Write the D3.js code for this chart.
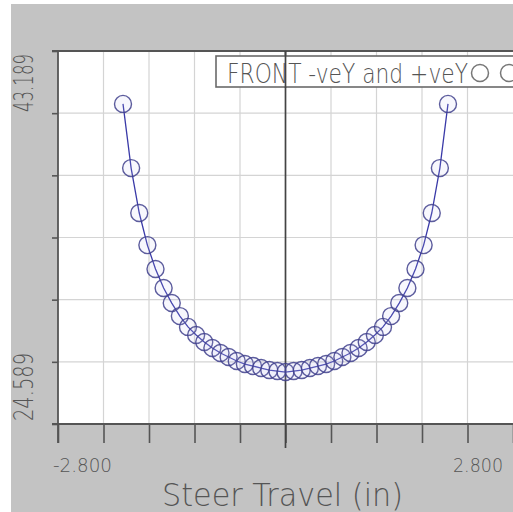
<!DOCTYPE html>
<html>
<head>
<meta charset="utf-8">
<script src="https://cdnjs.cloudflare.com/ajax/libs/d3/7.8.5/d3.min.js"></script>
<style>
  body { margin: 0; background: #fff; }
  svg { display: block; }
</style>
</head>
<body>
<div id="chart"></div>
<script>
// steer travel (in) and the measured value at each step
const steer = [-2.0, -1.9, -1.8, -1.7, -1.6, -1.5, -1.4, -1.3, -1.2, -1.1, -1.0,
  -0.9, -0.8, -0.7, -0.6, -0.5, -0.4, -0.3, -0.2, -0.1, 0.0,
  0.1, 0.2, 0.3, 0.4, 0.5, 0.6, 0.7, 0.8, 0.9, 1.0,
  1.1, 1.2, 1.3, 1.4, 1.5, 1.6, 1.7, 1.8, 1.9, 2.0];
const values = [40.55, 37.35, 35.11, 33.51, 32.32, 31.37, 30.62, 29.97, 29.43, 29.03, 28.68,
  28.38, 28.13, 27.93, 27.73, 27.58, 27.48, 27.38, 27.28, 27.23, 27.18,
  27.23, 27.28, 27.38, 27.48, 27.58, 27.73, 27.93, 28.13, 28.38, 28.68,
  29.03, 29.43, 29.97, 30.62, 31.37, 32.32, 33.51, 35.11, 37.35, 40.55];

const xDomain = [-2.8, 2.8];
const yDomain = [24.589, 43.189];
const xTickLabels = ['-2.800', '2.800'];
const yTickLabels = ['24.589', '43.189'];
const legendText = 'FRONT -veY and +veY';
const xTitle = 'Steer Travel (in)';

const W = 513, H = 512;
const margin = { left: 58, top: 51, right: 0, bottom: 88 };

const svg = d3.select('#chart').append('svg')
  .attr('width', W).attr('height', H);

// grey panel
svg.append('rect')
  .attr('x', 11).attr('y', 4).attr('width', W - 11).attr('height', H - 4)
  .attr('fill', '#c3c3c3');

const x = d3.scaleLinear().domain(xDomain).range([margin.left, W - margin.right]);
const y = d3.scaleLinear().domain(yDomain).range([H - margin.bottom, margin.top]);

const xTicks = d3.range(11).map(i => xDomain[0] + i * (xDomain[1] - xDomain[0]) / 10);
const yTicks = d3.range(7).map(i => yDomain[0] + i * (yDomain[1] - yDomain[0]) / 6);

// plot area
svg.append('rect')
  .attr('x', x(xDomain[0])).attr('y', y(yDomain[1]))
  .attr('width', x(xDomain[1]) - x(xDomain[0]))
  .attr('height', y(yDomain[0]) - y(yDomain[1]))
  .attr('fill', '#fff');

// grid
svg.append('g').selectAll('line')
  .data(xTicks.slice(1, -1).filter(t => Math.abs(t) > 1e-9))
  .join('line')
  .attr('x1', d => x(d)).attr('x2', d => x(d))
  .attr('y1', y(yDomain[1])).attr('y2', y(yDomain[0]))
  .attr('stroke', '#d4d4d4').attr('stroke-width', 1.2);

svg.append('g').selectAll('line')
  .data(yTicks.slice(1, -1))
  .join('line')
  .attr('x1', x(xDomain[0])).attr('x2', x(xDomain[1]))
  .attr('y1', d => y(d)).attr('y2', d => y(d))
  .attr('stroke', '#d4d4d4').attr('stroke-width', 1.2);

// axes
const xAxis = svg.append('g')
  .attr('transform', `translate(0,${y(yDomain[0])})`)
  .call(d3.axisBottom(x).tickValues(xTicks).tickSize(19).tickFormat('').tickSizeOuter(0));
xAxis.select('.domain').remove();
xAxis.selectAll('line').attr('stroke', '#555').attr('stroke-width', 1.6);

const yAxis = svg.append('g')
  .attr('transform', `translate(${x(xDomain[0])},0)`)
  .call(d3.axisLeft(y).tickValues(yTicks).tickSize(6).tickFormat('').tickSizeOuter(0));
yAxis.select('.domain').remove();
yAxis.selectAll('line').attr('stroke', '#555').attr('stroke-width', 1.6);

// frame lines
const frame = svg.append('g').attr('stroke', '#555').attr('stroke-width', 1.8);
frame.append('line')
  .attr('x1', x(xDomain[0]) - 6).attr('x2', W)
  .attr('y1', y(yDomain[0])).attr('y2', y(yDomain[0]));
frame.append('line')
  .attr('x1', x(xDomain[0]) - 6).attr('x2', W)
  .attr('y1', y(yDomain[1])).attr('y2', y(yDomain[1]));
frame.append('line')
  .attr('x1', x(xDomain[0])).attr('x2', x(xDomain[0]))
  .attr('y1', y(yDomain[1]) - 1).attr('y2', y(yDomain[0]) + 19);

// zero line, longer than other ticks
svg.append('line')
  .attr('x1', x(0)).attr('x2', x(0))
  .attr('y1', y(yDomain[1])).attr('y2', y(yDomain[0]) + 24)
  .attr('stroke', '#444').attr('stroke-width', 1.7);

// data
const line = d3.line().x((d, i) => x(steer[i])).y(d => y(d));
svg.append('path')
  .datum(values)
  .attr('d', line)
  .attr('fill', 'none')
  .attr('stroke', '#3a3aa8')
  .attr('stroke-width', 1.3);

svg.append('g').selectAll('circle')
  .data(values)
  .join('circle')
  .attr('cx', (d, i) => x(steer[i]))
  .attr('cy', d => y(d))
  .attr('r', 8.5)
  .attr('fill', 'rgba(190,190,240,0.12)')
  .attr('stroke', '#40408c')
  .attr('stroke-opacity', 0.85)
  .attr('stroke-width', 1.4);

// legend
const lg = svg.append('g');
lg.append('rect')
  .attr('x', 216).attr('y', 56).attr('width', W - 216 + 5).attr('height', 31)
  .attr('fill', '#fff').attr('stroke', '#6a6a6a').attr('stroke-width', 1.6);
lg.append('text')
  .attr('x', 227).attr('y', 83)
  .attr('textLength', 241).attr('lengthAdjust', 'spacingAndGlyphs')
  .style('font', '300 27px "DejaVu Sans"').attr('fill', '#555')
  .text(legendText);
lg.selectAll('circle.sym')
  .data([480, 509])
  .join('circle')
  .attr('class', 'sym')
  .attr('cx', d => d).attr('cy', 73).attr('r', 8.5)
  .attr('fill', 'none').attr('stroke', '#777').attr('stroke-width', 1.5);
// redraw zero line over legend box
svg.append('line')
  .attr('x1', x(0)).attr('x2', x(0))
  .attr('y1', y(yDomain[1])).attr('y2', 88)
  .attr('stroke', '#444').attr('stroke-width', 1.7);

// tick labels
const lblStyle = '300 20px "DejaVu Sans"';
svg.append('text')
  .attr('x', x(xDomain[0]) - 5).attr('y', 472)
  .attr('textLength', 59).attr('lengthAdjust', 'spacingAndGlyphs')
  .style('font', lblStyle).attr('fill', '#555')
  .text(xTickLabels[0]);
svg.append('text')
  .attr('x', 453).attr('y', 472)
  .attr('textLength', 50).attr('lengthAdjust', 'spacingAndGlyphs')
  .style('font', lblStyle).attr('fill', '#555')
  .text(xTickLabels[1]);

const yLblStyle = '300 27px "DejaVu Sans"';
svg.append('text')
  .attr('transform', `translate(33,${y(yDomain[0]) - 3}) rotate(-90)`)
  .attr('textLength', 68).attr('lengthAdjust', 'spacingAndGlyphs')
  .style('font', yLblStyle).attr('fill', '#555')
  .text(yTickLabels[0]);
svg.append('text')
  .attr('transform', `translate(33,112) rotate(-90)`)
  .attr('textLength', 58).attr('lengthAdjust', 'spacingAndGlyphs')
  .style('font', yLblStyle).attr('fill', '#555')
  .text(yTickLabels[1]);

// axis title
svg.append('text')
  .attr('x', 162).attr('y', 506)
  .attr('textLength', 241).attr('lengthAdjust', 'spacingAndGlyphs')
  .style('font', '300 32px "DejaVu Sans"').attr('fill', '#555')
  .text(xTitle);
</script>
</body>
</html>
